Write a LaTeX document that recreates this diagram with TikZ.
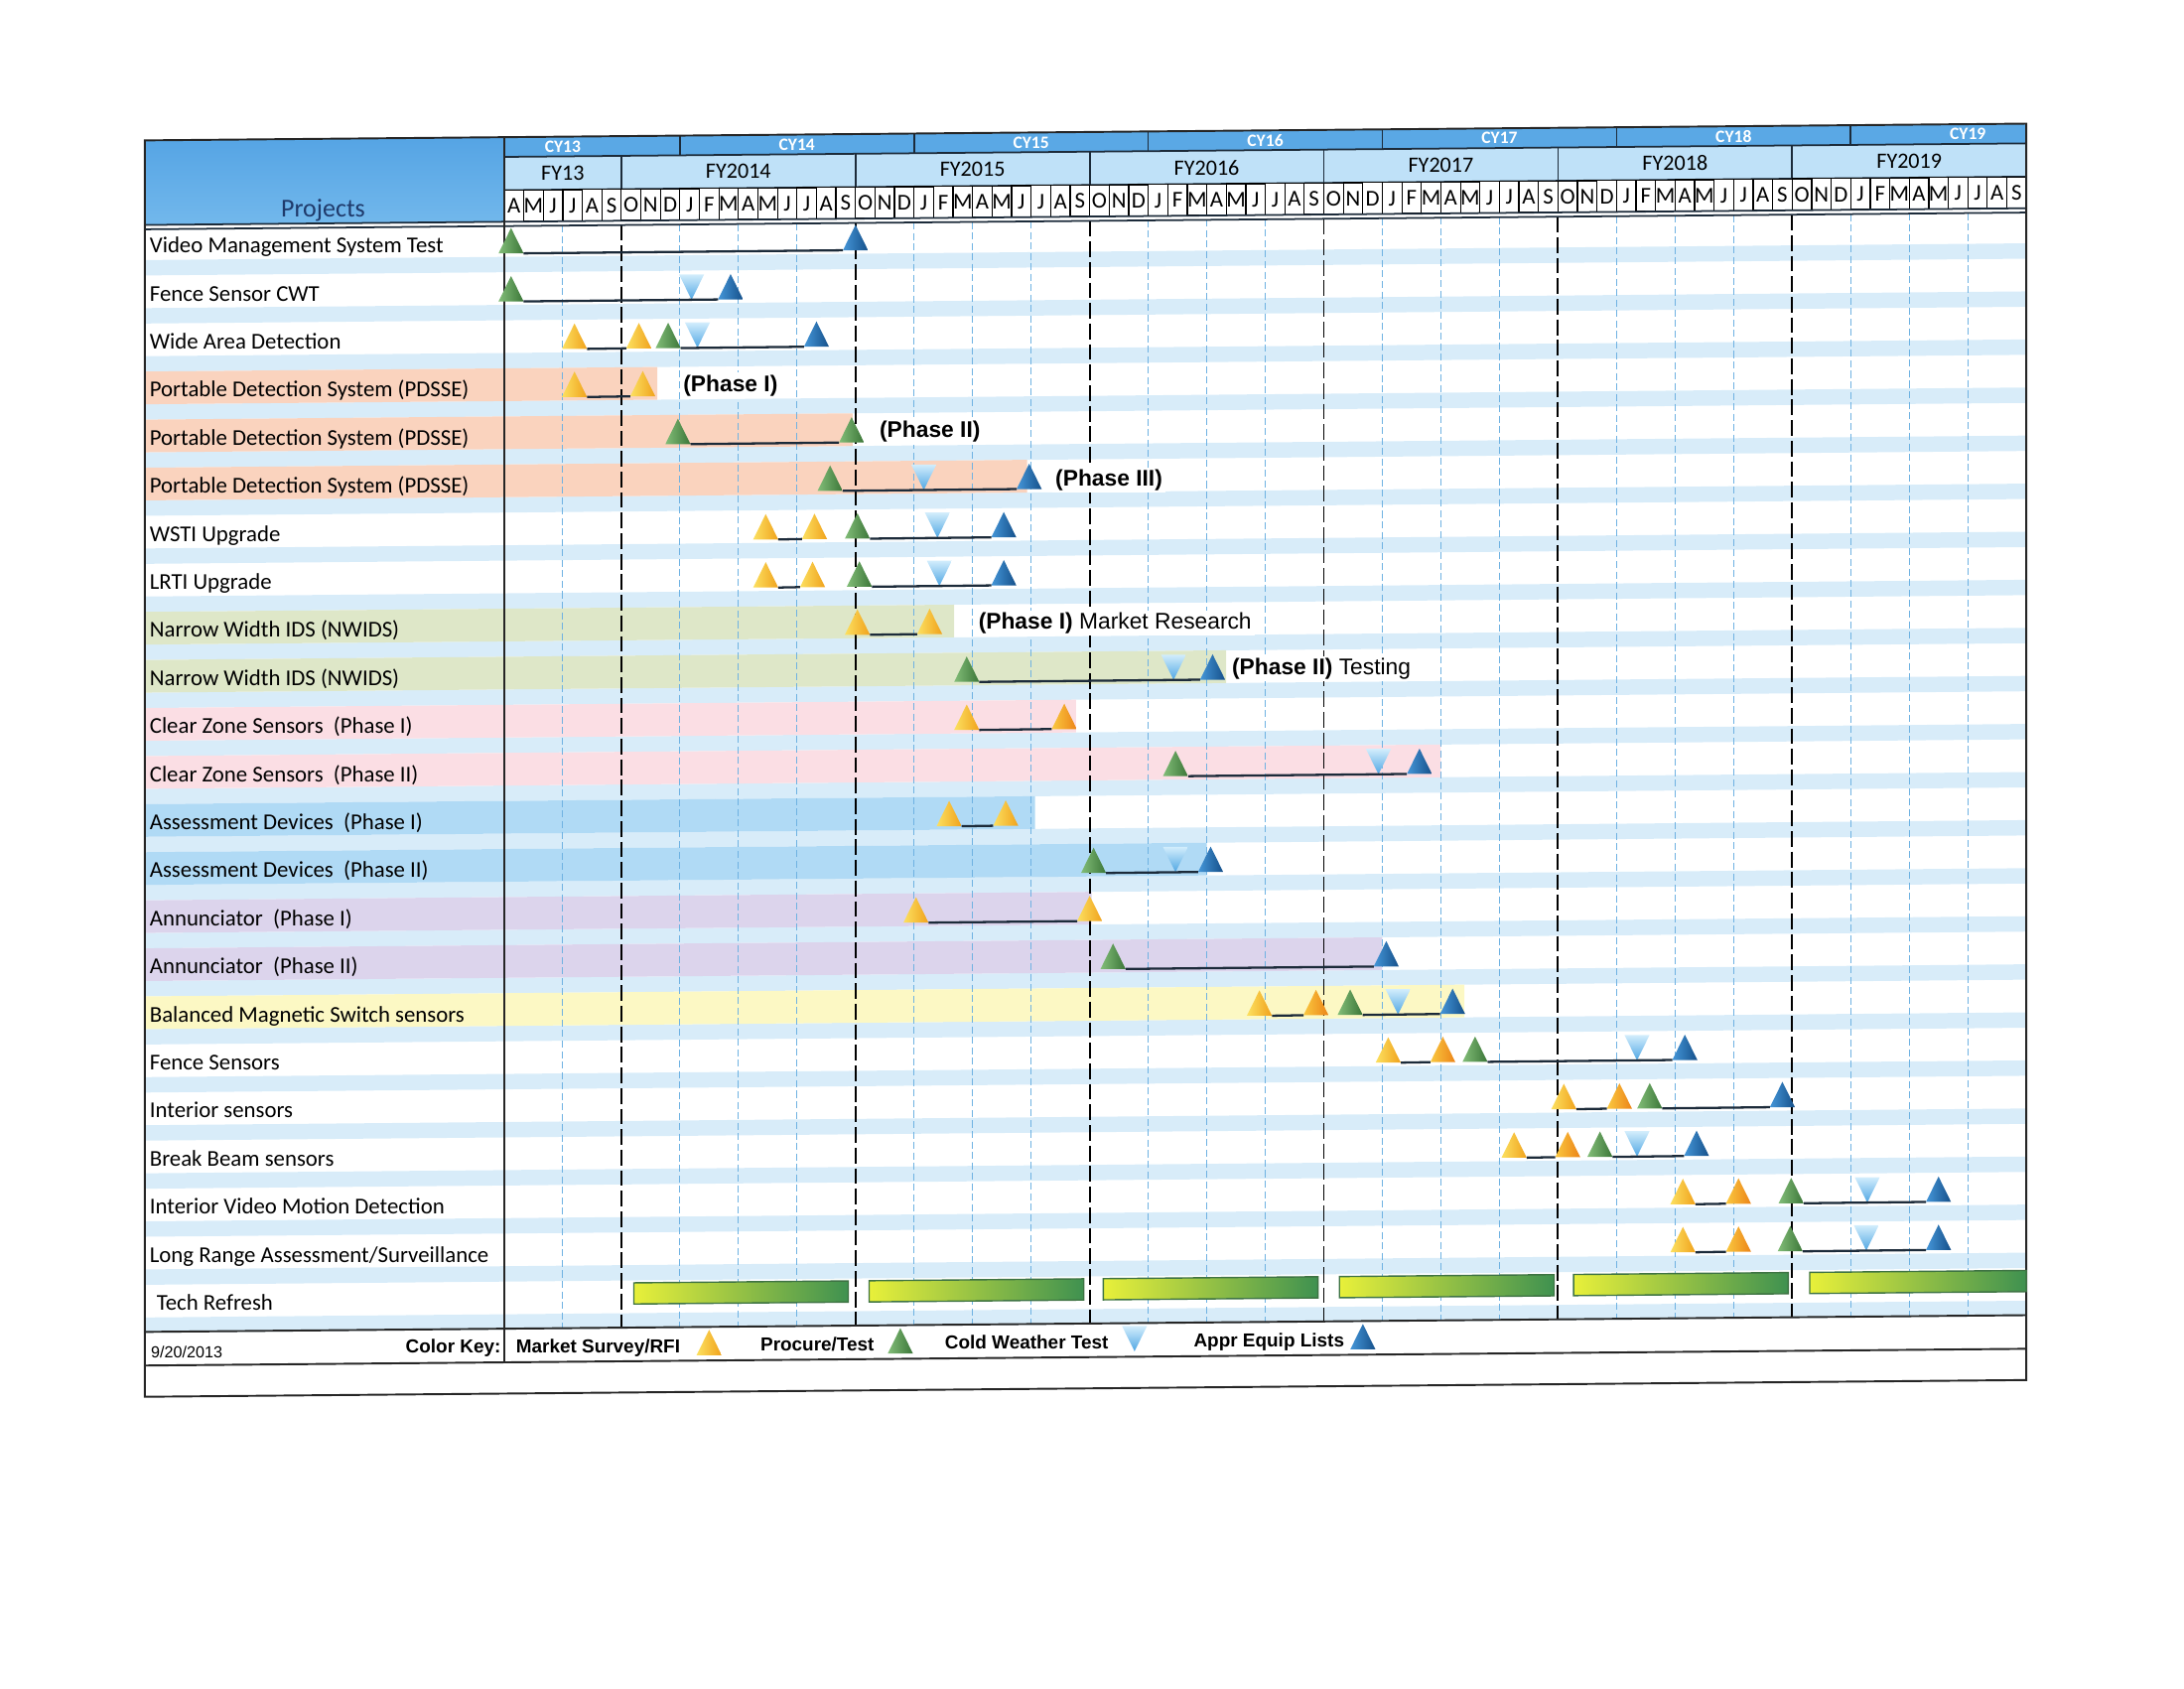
\documentclass[tikz,border=0pt]{standalone}
\usepackage{fontspec}
\setmainfont{Carlito}
\newfontfamily\arialfont{Liberation Sans}

\definecolor{cyblue}{HTML}{5AA8E5}
\definecolor{fyblue}{HTML}{BFE1F8}
\definecolor{hdtop}{HTML}{55A4E4}
\definecolor{hdbot}{HTML}{72B8EC}
\definecolor{projtxt}{HTML}{1F3A6B}
\definecolor{stripe}{HTML}{D8ECF9}
\definecolor{rowor}{HTML}{FAD3BE}
\definecolor{rowgr}{HTML}{DEE7C8}
\definecolor{rowpk}{HTML}{FBDEE4}
\definecolor{rowbl}{HTML}{B0DAF5}
\definecolor{rowpu}{HTML}{DCD4EC}
\definecolor{rowye}{HTML}{FCF8C4}
\definecolor{qblue}{HTML}{6FB2E2}
\definecolor{linecol}{HTML}{1C2B3A}
\definecolor{mktA}{HTML}{FCE060}
\definecolor{mktB}{HTML}{F0A21C}
\definecolor{mkoA}{HTML}{FAC840}
\definecolor{mkoB}{HTML}{EC8418}
\definecolor{procA}{HTML}{82BD78}
\definecolor{procB}{HTML}{3B7638}
\definecolor{apprA}{HTML}{4596D8}
\definecolor{apprB}{HTML}{15508A}
\definecolor{cwtA}{HTML}{D2EDFC}
\definecolor{cwtB}{HTML}{4FA6E3}
\definecolor{trA}{HTML}{E8F03A}
\definecolor{trM}{HTML}{8CC546}
\definecolor{trB}{HTML}{3F9150}
\definecolor{trEdge}{HTML}{3E7343}

\tikzset{
  hdline/.style={draw=linecol, line width=0.5pt},
  tablebox/.style={draw=black!85, line width=0.55pt},
  qline/.style={draw=qblue, line width=0.3pt, dash pattern=on 2pt off 1pt},
  fyline/.style={draw=black, line width=0.55pt, dash pattern=on 4.5pt off 1.4pt},
  link/.style={draw=linecol, line width=0.65pt},
  proj/.style={anchor=base west, inner sep=0pt, font=\fontsize{6.5}{7}\selectfont},
  monbox/.style={draw=black, line width=0.35pt, fill=white, inner sep=0pt,
    minimum width=5.604pt, minimum height=9pt, text height=4.3pt, text depth=0pt,
    font=\fontsize{6.5}{7}\selectfont},
  cylab/.style={text=white, font=\bfseries\fontsize{5}{6}\selectfont},
  fylab/.style={font=\fontsize{6.3}{7}\selectfont},
  phaselab/.style={anchor=base west, fill=white, inner xsep=0.8pt, inner ysep=0.6pt,
    font=\arialfont\fontsize{6.5}{7}\selectfont},
  keytxt/.style={inner sep=0pt, font=\arialfont\bfseries\fontsize{5.4}{6}\selectfont},
  tri/.style 2 args={minimum width=7.2pt, minimum height=7.3pt, inner sep=0pt,
    outer sep=0pt, yshift=0.5pt,
    path picture={\shade[left color=#1, right color=#2]
      (path picture bounding box.south west) -- (path picture bounding box.north)
      -- (path picture bounding box.south east) -- cycle;}},
  dtri/.style 2 args={minimum width=7.2pt, minimum height=7.3pt, inner sep=0pt,
    outer sep=0pt, yshift=0.5pt,
    path picture={\shade[top color=#1, bottom color=#2]
      (path picture bounding box.north west) -- (path picture bounding box.south)
      -- (path picture bounding box.north east) -- cycle;}},
  mkt/.style={tri={mktA}{mktB}},
  mko/.style={tri={mkoA}{mkoB}},
  proc/.style={tri={procA}{procB}},
  appr/.style={tri={apprA}{apprB}},
  cwt/.style={dtri={cwtA}{cwtB}}
}

\begin{document}
\begin{tikzpicture}[x=5.604pt, y=-13.8pt]
  \useasboundingbox (-25.84,-5.044) rectangle (86.08,30.087);
  \begin{scope}[yslant=0.0089] % scan tilt

    % header bands
    \shade[top color=hdtop, bottom color=hdbot] (-18.42,-2.19) rectangle (0,-0.43);
    \fill[cyblue] (0,-2.19) rectangle (78,-1.78);
    \fill[fyblue] (0,-1.78) rectangle (78,-1.087);
    \node[font=\fontsize{7.4}{8}\selectfont, text=projtxt] (hd) at (-9.28,-0.7) {Projects};

    % row stripes and highlights
    \foreach \i in {0,...,22}
      \fill[stripe] (-18.42,\i+0.3) rectangle (78,\i+0.62);
    \foreach \i/\e/\c in {3/7.85/rowor, 4/17.85/rowor, 5/26.8/rowor, 8/23.05/rowgr,
        9/37/rowgr, 10/29.3/rowpk, 11/48/rowpk, 12/27.2/rowbl, 13/36/rowbl,
        14/30.1/rowpu, 15/45/rowpu, 16/49.2/rowye}
      \fill[\c] (-18.42,\i-0.38) rectangle (\e,\i+0.3);

    % quarter and fiscal year lines
    \foreach \m in {3,9,12,15,21,24,27,33,36,39,45,48,51,57,60,63,69,72,75}
      \draw[qline] (\m,-0.34) -- (\m,22.6);
    \foreach \m in {6,18,...,66}
      \draw[fyline] (\m,-0.34) -- (\m,22.6);

    % calendar years
    \draw[hdline] (0,-1.78) -- (78,-1.78);
    \foreach \m in {9,21,...,69}
      \draw[hdline] (\m,-2.19) -- (\m,-1.78);
    \foreach \c [count=\k from 0] in {CY13,CY14,CY15,CY16,CY17,CY18,CY19}
      \node[cylab] (cy\k) at (3+12*\k,-1.985) {\c};

    % fiscal years
    \draw[hdline] (0,-1.087) -- (78,-1.087);
    \foreach \m in {6,18,...,66}
      \draw[hdline] (\m,-1.78) -- (\m,-1.087);
    \node[fylab] (fy0) at (3,-1.43) {FY13};
    \foreach \f [count=\k from 1] in {FY2014,FY2015,FY2016,FY2017,FY2018,FY2019}
      \node[fylab] (fy\k) at (12*\k,-1.43) {\f};

    % months
    \foreach \l [count=\k from 0] in {A,M,J,J,A,S}
      \node[monbox] (m\k) at (\k+0.5,-0.7585) {\l};
    \foreach \y in {0,...,5}
      \foreach \l [count=\k from 0] in {O,N,D,J,F,M,A,M,J,J,A,S}
        \node[monbox] (m\y-\k) at ({6.5+12*\y+\k},-0.7585) {\l};

    % table rules
    \draw[hdline] (-18.42,-0.43) -- (78,-0.43);
    \draw[hdline] (-18.42,-0.34) -- (78,-0.34);
    \draw[tablebox] (-18.42,-2.19) rectangle (78,23.95);
    \draw[tablebox] (0,-2.19) -- (0,23.3);
    \draw[tablebox] (-18.42,22.6) -- (78,22.6);
    \draw[tablebox] (-18.42,23.3) -- (78,23.3);

    % projects
    \foreach \t [count=\i from 0] in {Video Management System Test, Fence Sensor CWT,
        Wide Area Detection, Portable Detection System (PDSSE),
        Portable Detection System (PDSSE), Portable Detection System (PDSSE),
        WSTI Upgrade, LRTI Upgrade, Narrow Width IDS (NWIDS), Narrow Width IDS (NWIDS),
        Clear Zone Sensors\ \ (Phase I), Clear Zone Sensors\ \ (Phase II),
        Assessment Devices\ \ (Phase I), Assessment Devices\ \ (Phase II),
        Annunciator\ \ (Phase I), Annunciator\ \ (Phase II),
        Balanced Magnetic Switch sensors, Fence Sensors, Interior sensors,
        Break Beam sensors, Interior Video Motion Detection,
        Long Range Assessment/Surveillance}
      \node[proj] (p\i) at (-18.2,\i+0.15) {\t};
    \node[proj] (p22) at (-17.85,22.15) {Tech Refresh};

    % Video Management System Test
    \node[proc] (vm1) at (0.35,0) {};
    \node[appr] (vm2) at (18,0) {};
    \draw[link] (vm1.south east) -- (vm2.south west);

    % Fence Sensor CWT
    \node[proc] (fc1) at (0.35,1) {};
    \node[cwt] (fc2) at (9.6,1) {};
    \node[appr] (fc3) at (11.6,1) {};
    \draw[link] (fc1.south east) -- (fc3.south west);

    % Wide Area Detection
    \node[mkt] (wa1) at (3.6,2) {};
    \node[mkt] (wa2) at (6.9,2) {};
    \node[proc] (wa3) at (8.4,2) {};
    \node[cwt] (wa4) at (9.9,2) {};
    \node[appr] (wa5) at (16,2) {};
    \draw[link] (wa1.south east) -- (wa2.south west);
    \draw[link] (wa3.south east) -- (wa5.south west);

    % PDSSE phase I
    \node[mkt] (pa1) at (3.6,3) {};
    \node[mkt] (pa2) at (7.1,3) {};
    \draw[link] (pa1.south east) -- (pa2.south west);
    \node[phaselab] (ph1) at (9.0,3.13) {\textbf{(Phase I)}};

    % PDSSE phase II
    \node[proc] (pb1) at (8.9,4) {};
    \node[proc] (pb2) at (17.8,4) {};
    \draw[link] (pb1.south east) -- (pb2.south west);
    \node[phaselab] (ph2) at (19.06,4.13) {\textbf{(Phase II)}};

    % PDSSE phase III
    \node[proc] (pc1) at (16.7,5) {};
    \node[cwt] (pc2) at (21.5,5) {};
    \node[appr] (pc3) at (26.9,5) {};
    \draw[link] (pc1.south east) -- (pc3.south west);
    \node[phaselab] (ph3) at (28.07,5.17) {\textbf{(Phase III)}};

    % WSTI Upgrade
    \node[mkt] (ws1) at (13.4,6) {};
    \node[mkt] (ws2) at (15.9,6) {};
    \node[proc] (ws3) at (18.1,6) {};
    \node[cwt] (ws4) at (22.2,6) {};
    \node[appr] (ws5) at (25.6,6) {};
    \draw[link] (ws1.south east) -- (ws2.south west);
    \draw[link] (ws3.south east) -- (ws5.south west);

    % LRTI Upgrade
    \node[mkt] (lr1) at (13.4,7) {};
    \node[mkt] (lr2) at (15.8,7) {};
    \node[proc] (lr3) at (18.2,7) {};
    \node[cwt] (lr4) at (22.3,7) {};
    \node[appr] (lr5) at (25.6,7) {};
    \draw[link] (lr1.south east) -- (lr2.south west);
    \draw[link] (lr3.south east) -- (lr5.south west);

    % NWIDS phase I
    \node[mkt] (na1) at (18.1,8) {};
    \node[mkt] (na2) at (21.8,8) {};
    \draw[link] (na1.south east) -- (na2.south west);
    \node[phaselab] (ph4) at (24.13,8.13) {\textbf{(Phase I)} Market Research};

    % NWIDS phase II
    \node[proc] (nb1) at (23.7,9) {};
    \node[cwt] (nb2) at (34.3,9) {};
    \node[appr] (nb3) at (36.3,9) {};
    \draw[link] (nb1.south east) -- (nb3.south west);
    \node[phaselab] (ph5) at (37.12,9.13) {\textbf{(Phase II)} Testing};

    % Clear Zone Sensors
    \node[mkt] (ca1) at (23.7,10) {};
    \node[mko] (ca2) at (28.7,10) {};
    \draw[link] (ca1.south east) -- (ca2.south west);
    \node[proc] (cb1) at (34.4,11) {};
    \node[cwt] (cb2) at (44.8,11) {};
    \node[appr] (cb3) at (46.9,11) {};
    \draw[link] (cb1.south east) -- (cb3.south west);

    % Assessment Devices
    \node[mkt] (aa1) at (22.8,12) {};
    \node[mkt] (aa2) at (25.7,12) {};
    \draw[link] (aa1.south east) -- (aa2.south west);
    \node[proc] (ab1) at (30.2,13) {};
    \node[cwt] (ab2) at (34.4,13) {};
    \node[appr] (ab3) at (36.2,13) {};
    \draw[link] (ab1.south east) -- (ab3.south west);

    % Annunciator
    \node[mkt] (an1) at (21.1,14) {};
    \node[mkt] (an2) at (30,14) {};
    \draw[link] (an1.south east) -- (an2.south west);
    \node[proc] (ao1) at (31.2,15) {};
    \node[appr] (ao2) at (45.2,15) {};
    \draw[link] (ao1.south east) -- (ao2.south west);

    % Balanced Magnetic Switch sensors
    \node[mkt] (bm1) at (38.7,16) {};
    \node[mko] (bm2) at (41.6,16) {};
    \node[proc] (bm3) at (43.35,16) {};
    \node[cwt] (bm4) at (45.8,16) {};
    \node[appr] (bm5) at (48.6,16) {};
    \draw[link] (bm1.south east) -- (bm2.south west);
    \draw[link] (bm3.south east) -- (bm5.south west);

    % Fence Sensors
    \node[mkt] (fs1) at (45.3,17) {};
    \node[mko] (fs2) at (48.1,17) {};
    \node[proc] (fs3) at (49.75,17) {};
    \node[cwt] (fs4) at (58.05,17) {};
    \node[appr] (fs5) at (60.5,17) {};
    \draw[link] (fs1.south east) -- (fs2.south west);
    \draw[link] (fs3.south east) -- (fs5.south west);

    % Interior sensors
    \node[mkt] (is1) at (54.3,18) {};
    \node[mko] (is2) at (57.15,18) {};
    \node[proc] (is3) at (58.7,18) {};
    \node[appr] (is4) at (65.5,18) {};
    \draw[link] (is1.south east) -- (is2.south west);
    \draw[link] (is3.south east) -- (is4.south west);

    % Break Beam sensors
    \node[mkt] (bb1) at (51.75,19) {};
    \node[mko] (bb2) at (54.5,19) {};
    \node[proc] (bb3) at (56.15,19) {};
    \node[cwt] (bb4) at (58.05,19) {};
    \node[appr] (bb5) at (61.1,19) {};
    \draw[link] (bb1.south east) -- (bb2.south west);
    \draw[link] (bb3.south east) -- (bb5.south west);

    % Interior Video Motion Detection
    \node[mkt] (iv1) at (60.4,20) {};
    \node[mko] (iv2) at (63.25,20) {};
    \node[proc] (iv3) at (65.95,20) {};
    \node[cwt] (iv4) at (69.85,20) {};
    \node[appr] (iv5) at (73.5,20) {};
    \draw[link] (iv1.south east) -- (iv2.south west);
    \draw[link] (iv3.south east) -- (iv5.south west);

    % Long Range Assessment/Surveillance
    \node[mkt] (la1) at (60.4,21) {};
    \node[mko] (la2) at (63.25,21) {};
    \node[proc] (la3) at (65.9,21) {};
    \node[cwt] (la4) at (69.8,21) {};
    \node[appr] (la5) at (73.5,21) {};
    \draw[link] (la1.south east) -- (la2.south west);
    \draw[link] (la3.south east) -- (la5.south west);

    % Tech Refresh
    \foreach \a/\b in {6.64/17.63, 18.7/29.7, 30.7/41.7, 42.8/53.8, 54.8/65.8, 66.9/78}
      \shadedraw[left color=trA, middle color=trM, right color=trB, draw=trEdge,
        line width=0.4pt] (\a,21.67) rectangle (\b,22.11);

    % colour key
    \node[anchor=base west, inner sep=0pt, font=\arialfont\fontsize{4.6}{5}\selectfont]
      (date) at (-18.13,23.15) {9/20/2013};
    \node[keytxt, anchor=base east] (ck) at (-0.14,23.1) {Color Key:};
    \node[keytxt, anchor=base west] (k1) at (0.57,23.1) {Market Survey/RFI};
    \node[mkt] (k1t) at (10.5,22.96) {};
    \node[keytxt, anchor=base west] (k2) at (13.1,23.1) {Procure/Test};
    \node[proc] (k2t) at (20.3,22.96) {};
    \node[keytxt, anchor=base west] (k3) at (22.55,23.1) {Cold Weather Test};
    \node[cwt] (k3t) at (32.3,22.96) {};
    \node[keytxt, anchor=base west] (k4) at (35.3,23.1) {Appr Equip Lists};
    \node[appr] (k4t) at (44,22.96) {};
  \end{scope}
\end{tikzpicture}
\end{document}
